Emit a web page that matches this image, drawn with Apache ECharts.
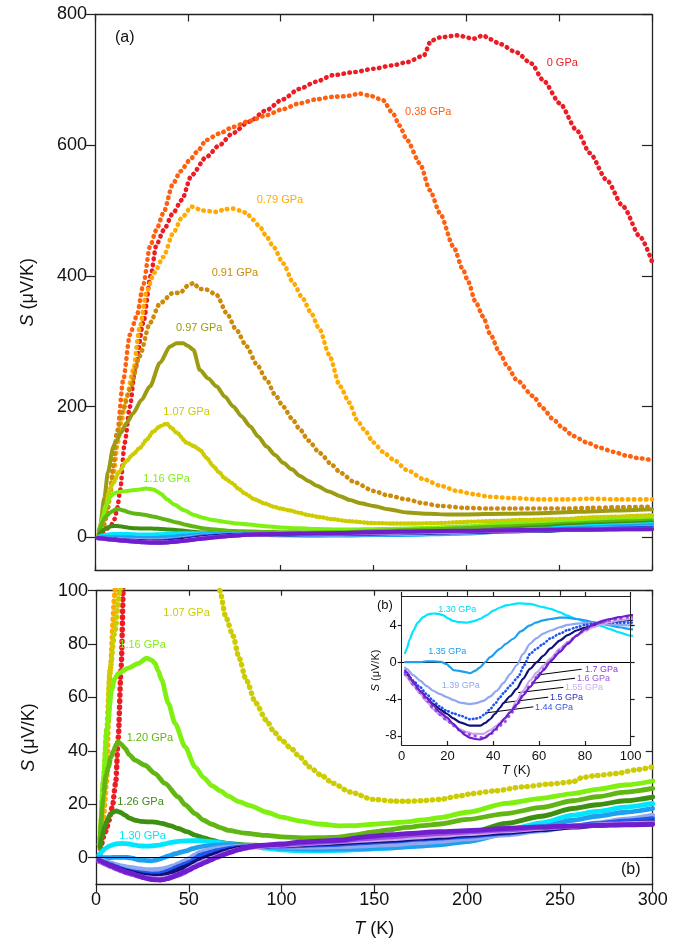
<!DOCTYPE html>
<html><head><meta charset="utf-8">
<script src="https://cdn.jsdelivr.net/npm/echarts@6/dist/echarts.min.js"></script>
<style>html,body{margin:0;padding:0;background:#fff}#c{width:692px;height:943px}</style>
</head><body><div id="c"></div>
<script>
// ---------- data: [T (K), S (uV/K)] ----------
const p000 = [[2,1],[3,5],[3.9,7.7],[5.4,10],[7,14],[8.8,19],[10.6,28],[12,45],[13.5,71],[16,145],[18.8,200],[21.5,256],[26,328],[30,400],[33,447],[37,470],[42,496],[46.7,516],[52,554],[60,582],[67,600],[74,618],[83,636],[92,653],[101,670],[110,686],[119,697],[128,707],[140,712],[150,717],[160,722],[168,727],[177,737],[181,760],[186,765],[195,768],[204,763],[209,768],[213,762],[218,755],[227,742],[235,725],[241.5,699],[250.4,664],[259.4,623],[266.5,588],[275.5,547],[284.5,506],[293.5,460],[300,422]];
const p038 = [[2,3],[4,12],[6.3,32],[8,65],[9.9,109],[12,160],[15.2,241],[18.8,310],[22.4,338],[26,386],[29.6,445],[33,470],[36.8,496],[42,541],[46,560],[51,577],[55,590],[60,608],[67,618],[74.5,628],[83,637],[92.5,646],[101,655],[110,664],[119,670],[128,674],[135,675],[142.7,679],[149,675],[155,669],[160.6,648],[164,630],[168,608],[175,572],[180.4,531],[185.8,496],[193,445],[198.3,409],[201,391],[205,360],[209,338],[213,310],[218,282],[222,262],[227,241],[236,216],[241,198],[247,180],[252,167],[257.6,155],[265,145],[272,137],[279,131],[286.3,125],[293,121],[300,118]];
const p079 = [[2,4],[4,15],[5.8,29],[6.6,50],[7.5,69],[10.2,99],[12,140],[14,175],[17,215],[20.6,256],[24,320],[27.8,376],[32,405],[36.8,429],[42,465],[47,490],[52,506],[58,500],[65.5,498],[70,502],[74.5,503],[78,500],[81.7,496],[85,486],[88.8,475],[92,462],[96,445],[101.4,419],[106.8,389],[112,365],[116,345],[121,318],[126,280],[132,231],[137,206],[141,180],[145,165],[150,145],[155,131],[160.7,119],[168,103],[177,89],[186,79],[195,71],[204,66],[212.7,62],[225,60],[239.6,58],[253,58],[266.6,59],[283,58],[300,58]];
const p091 = [[2,3],[4,12],[6,30],[8,60],[10,110],[11.7,160],[15,195],[18.8,226],[24,277],[29.6,328],[35,358],[42,374],[45.8,374],[50,385],[53,389],[56.5,380],[60,379],[65.5,371],[70.9,343],[76,318],[81.7,292],[87,265],[92.4,241],[97,218],[101.4,200],[106,182],[110.4,165],[115,148],[121,129],[128,110],[132,99],[140,84],[150,71],[158,64],[168,58],[177,52],[185.8,48],[200,45],[212.7,44],[225,44],[239.6,44],[253,44],[266.6,45],[283,46],[300,47]];
const p097 = [[2,10],[2.7,17],[5,60],[7,100],[9.9,139],[11,145],[14,160],[17,175],[20.6,190],[25,210],[29.6,231],[35,267],[40.4,292],[44,297],[47.5,297],[50,293],[53,287],[56.5,256],[61,243],[65.5,231],[70,215],[74.5,200],[79,185],[83.5,170],[88,154],[92.4,139],[97,126],[101.4,114],[106,104],[110.4,94],[115,86],[119.4,79],[126,70],[132,63],[137.3,57],[143,52],[150,48],[158,43],[168,38],[180,36],[190,35],[200,35],[220,36],[240,37],[260,39],[280,41],[300,43]];
const p107 = [[1.8,5],[2.2,8],[4,29],[5.8,48],[7.5,70],[10.2,85],[12.9,100],[17,117],[20.5,127],[24.2,137],[28,150],[31.4,162],[35,170],[38.6,174],[41,168],[44,160],[49.4,145],[53,140],[56.5,134],[60,122],[63.7,109],[66.7,100],[70,90],[73.9,83],[77,75],[81,66.5],[86,58],[91.8,51.5],[96,47],[100,44],[105,41],[109.8,37.7],[115,34],[121,31],[127.8,27.8],[136.8,24.6],[149.4,21.8],[160,21.2],[167.4,21.1],[175,21.3],[185.4,21.8],[195,23],[203,24],[215,25],[230,26.5],[245,27.6],[257,28.4],[262,30],[270,30.8],[280.6,31.5],[290,32.8],[300,34]];
const p116 = [[2.2,5],[4,29],[5.8,47.8],[8.5,62.8],[10,67],[12,69],[17.4,71],[22.8,72.8],[27.3,74.7],[30,74],[31.8,72.8],[33.5,70],[35.4,66.5],[39,57.8],[42.6,50.3],[48,41.5],[53.4,34],[58,30],[62.4,27],[67,25],[71.3,23],[77,21],[83,19.5],[92,17],[100,15.2],[110,13.7],[120,12.6],[131.4,11.9],[140,12],[149.4,12.5],[158,12.9],[167.4,13.4],[176,14.1],[185.4,15],[200,17],[221,20.3],[240,22.2],[257,24],[270,25.6],[285,27.2],[300,28.7]];
const p120 = [[2.2,6.5],[4,24],[5.5,31],[6.7,34],[8,37.5],[9.4,40],[11,42.5],[12,43.4],[13.5,42.5],[15.6,41],[18,38.5],[21,36.5],[26.4,34.6],[31.8,31.5],[37.2,27.8],[44.4,22.7],[48,19.8],[53.4,16.5],[58,14],[62.4,12.5],[67,11.2],[71.3,10.2],[80,9.2],[92,8.3],[100,7.8],[113.5,7.4],[122,7.5],[131,7.7],[140,8.5],[149.4,9.6],[158,10.4],[167.4,11.3],[176,12],[185.4,12.6],[200,14.3],[221,16.5],[240,18.8],[257,21.3],[270,22.8],[285,24.5],[300,25.9]];
const p126 = [[2.2,4],[3,7.7],[4.8,11.5],[6,14],[7.5,15.9],[9,17],[11,17.5],[13,17],[15.6,15.9],[18,14.8],[21,14],[24,13.6],[28.2,13.4],[32,13.3],[35.4,12.8],[40,12],[44.4,10.9],[49,9.7],[53.4,8.4],[58,7.4],[62.4,6.5],[67,5.8],[71.3,5.3],[80,4.8],[90,4.6],[100,4.6],[115,4.8],[131,5.1],[150,5.6],[167,6.3],[185.4,7.3],[200,9],[221,12.8],[240,15.5],[257,18.4],[270,19.8],[285,21.3],[300,22.7]];
const p130 = [[1.5,1],[2.2,1.45],[3.5,2.5],[5.1,3.45],[7,4.3],[9.4,4.9],[11.5,5.2],[13.8,5.3],[16,5.25],[18.2,5.1],[20,4.8],[22.5,4.5],[25,4.35],[28.4,4.3],[31,4.45],[34.2,4.7],[37,5.1],[40,5.6],[43,5.95],[45.9,6.2],[50.9,6.4],[56,6.35],[61.8,6.0],[65,5.8],[69,5.45],[72,5.1],[76.4,4.7],[80,4.45],[83.7,4.25],[87,3.95],[91,3.6],[95,3.25],[99.7,2.9],[110,2.6],[120,2.5],[131.5,2.7],[145,3.1],[160,3.7],[175,4.5],[185.4,5.3],[200,7],[221,10.2],[240,13],[257,15.9],[270,17.3],[285,18.9],[300,20.3]];
const p135 = [[1.5,0],[2.2,0],[5,0],[8,0],[11,0.1],[13.8,0.1],[17,0.05],[19.7,-0.2],[21,-0.5],[22.5,-0.85],[25,-0.95],[28.4,-1.1],[29.8,-1.2],[32,-0.95],[34.2,-0.55],[36.5,0],[38.6,0.55],[42.9,1.45],[45.5,2],[48.7,2.55],[52,3.35],[56,4.0],[58.5,4.3],[61.8,4.55],[65,4.7],[69,4.85],[72,4.85],[76.4,4.7],[80,4.55],[83.7,4.35],[87,4.2],[91,4.0],[95,3.8],[99.7,3.6],[110,3.3],[120,3.1],[131,3.2],[145,3.4],[160,3.7],[175,4.3],[185,4.8],[200,6],[221,9],[240,11.5],[257,14],[270,15.5],[285,17],[300,18.4]];
const p139 = [[1.5,-0.6],[2.2,-0.73],[5,-1.4],[8,-2.0],[11,-2.6],[13.8,-3.1],[16.5,-3.45],[19.7,-3.8],[22.5,-4.1],[25.5,-4.4],[29.8,-4.55],[32.5,-4.45],[35.6,-4.2],[38.5,-3.75],[41.5,-3.1],[44.5,-2.25],[47.3,-1.3],[50.3,-0.3],[53,0.9],[56,2.0],[58.8,2.6],[61.8,3.1],[65,3.45],[69,3.8],[72.5,4.05],[76.4,4.2],[80,4.25],[83.7,4.25],[87,4.2],[91,4.1],[95,4.05],[99.7,4.0],[110,3.9],[120,3.9],[131,4.1],[145,4.4],[160,4.9],[175,5.6],[185,6.1],[200,7],[221,8.5],[240,10],[257,11.7],[270,13],[285,14.4],[300,15.9]];
const p144 = [[1.5,-1.1],[2.2,-1.27],[5,-2.0],[8,-2.7],[11,-3.5],[13.8,-4.2],[16.5,-4.8],[19.7,-5.3],[22.5,-5.55],[25.5,-5.8],[29.8,-6.2],[32,-6.15],[34.2,-6.0],[36.5,-5.6],[38.6,-5.1],[40.8,-4.5],[42.9,-3.8],[45,-3.2],[47.3,-2.55],[50.9,-1.6],[53.5,-0.3],[56,0.9],[59,1.5],[61.8,2.0],[65,2.6],[69,3.1],[72.5,3.5],[76.4,3.8],[80,4.05],[83.7,4.2],[87,4.25],[91,4.3],[95,4.3],[99.7,4.3],[110,4.5],[120,4.8],[131,5.0],[145,5.6],[160,6.2],[175,6.9],[185,7.3],[200,8],[221,9.2],[240,10.5],[257,11.8],[270,12.7],[285,13.7],[300,14.6]];
const p150 = [[1.5,-1.3],[2.2,-1.45],[5,-2.3],[8,-3.1],[11,-3.9],[13.8,-4.55],[16.5,-5.1],[19.7,-5.6],[22.5,-6.1],[25.5,-6.55],[29.8,-6.9],[34.2,-6.9],[36.5,-6.6],[38.6,-6.2],[40.8,-5.6],[42.9,-4.95],[44.4,-4.45],[47.3,-3.7],[50.2,-2.9],[53,-1.8],[56,-0.73],[59,0],[61.8,0.7],[65,1.5],[69,2.35],[72.5,2.95],[76.4,3.45],[80,3.75],[83.7,4.0],[87,4.2],[91,4.35],[95,4.5],[99.7,4.6],[110,4.9],[120,5.2],[131,5.5],[145,6.1],[160,6.6],[175,7.3],[185,7.7],[200,8.5],[221,9.5],[240,10.5],[257,11.4],[270,12.1],[285,12.8],[300,13.4]];
const p155 = [[1.5,-1.4],[2.2,-1.6],[5,-2.5],[8,-3.4],[11,-4.3],[13.8,-5.1],[16.5,-5.7],[19.7,-6.3],[22.5,-6.8],[25.5,-7.3],[28.5,-7.6],[31.6,-7.8],[35.6,-7.8],[38.5,-7.4],[41.5,-6.9],[44.5,-6.2],[47.3,-5.45],[50.2,-4.2],[53,-3.1],[56,-2.0],[59,-1.1],[61.8,-0.4],[65,0.4],[69,1.45],[72.5,2.2],[76.4,2.9],[80,3.4],[83.7,3.8],[87,4.1],[91,4.35],[95,4.55],[99.7,4.7],[110,5.1],[120,5.5],[131,6],[145,6.6],[160,7.1],[175,7.8],[185,8.3],[200,9],[221,10],[240,11],[257,11.8],[270,12.3],[285,12.7],[300,13]];
const p160 = [[1.5,-1.3],[2.2,-1.5],[5,-2.4],[8,-3.3],[11,-4.2],[13.8,-5.0],[16.5,-5.7],[19.7,-6.3],[22.5,-6.9],[25.5,-7.4],[28.5,-7.8],[31.6,-8.0],[33.5,-8.15],[35.6,-8.2],[38.5,-7.9],[41.5,-7.3],[44.5,-6.6],[47.3,-5.8],[50.2,-4.7],[53,-3.6],[56,-2.55],[59,-1.6],[61.8,-0.73],[65,0.2],[69,1.27],[72.5,2.1],[76.4,2.9],[80,3.5],[83.7,4.0],[87,4.3],[91,4.55],[95,4.75],[99.7,4.9],[110,5.3],[120,5.8],[131,6.2],[145,7.1],[160,7.8],[175,8.6],[185,9],[200,9.6],[221,10.4],[240,11.2],[257,11.7],[270,12.1],[285,12.4],[300,12.6]];
const p170 = [[1.5,-0.9],[2.2,-1.1],[5,-2.1],[8,-3.1],[11,-3.9],[13.8,-4.7],[16.5,-5.4],[19.7,-6.0],[22.5,-6.7],[25.5,-7.45],[27.5,-7.9],[29.8,-8.2],[32,-8.35],[34.2,-8.4],[36.5,-8.2],[38.6,-7.8],[40.8,-7.3],[42.9,-6.7],[45,-6.1],[47.3,-5.45],[50.2,-4.6],[53,-3.6],[56,-2.7],[59,-1.75],[61.8,-0.9],[65,0.1],[69,1.1],[72.5,2.0],[76.4,2.9],[80,3.6],[83.7,4.1],[87,4.45],[91,4.7],[95,4.9],[99.7,5.1],[110,5.8],[120,6.2],[131,6.5],[145,7.8],[160,8.6],[167,9],[185,9.7],[203,10.2],[221,10.9],[239,11.5],[257,11.9],[270,12.1],[285,12.3],[300,12.5]];

// tick values
const topYTicks = [0, 200, 400, 600, 800];
const botYTicks = [0, 20, 40, 60, 80, 100];
const insetYTicks = [-8, -4, 0, 4];
// inset label leader lines: [[T,S] on curve, [T,S] at label]
const leaders = [[[58.9,-1.4],[78.6,-0.76]],[[56.8,-2.3],[75.7,-1.74]],[[50.9,-3.3],[70.6,-2.73]],[[44.4,-4.4],[64,-3.8]],[[37.1,-5.5],[57.5,-4.85]]];

const FONT = '"Liberation Sans", Arial, Helvetica, sans-serif';
const AX = '#222';

// bot: style in panel (b) (null = not shown); botMaxT: only the low-T part appears in panel (b)
const P = [
  {d:p000, c:'#ec1c24', top:'dot', bot:'dot'},
  {d:p038, c:'#ff5f0f', top:'dot', bot:null},
  {d:p079, c:'#ffaa00', top:'dot', bot:'dot', botMaxT:12},
  {d:p091, c:'#cc8a0a', top:'dot', bot:null},
  {d:p097, c:'#9c9c12', top:'solid', bot:null},
  {d:p107, c:'#cccc00', top:'dense', bot:'dot'},
  {d:p116, c:'#80f010', top:'solid', bot:'solid'},
  {d:p120, c:'#62b614', top:'solid', bot:'solid'},
  {d:p126, c:'#3e9010', top:'solid', bot:'solid'},
  {d:p130, c:'#00e6ff', top:'solid', bot:'solid', ins:'solid'},
  {d:p135, c:'#1ea0ee', top:'solid', bot:'solid', ins:'solid'},
  {d:p139, c:'#90a8f0', top:'solid', bot:'solid', ins:'solid'},
  {d:p144, c:'#2255ee', top:'solid', bot:'solid', ins:'dense'},
  {d:p150, c:'#10107a', top:'solid', bot:'solid', ins:'solid'},
  {d:p155, c:'#c8a8ec', top:'solid', bot:'solid', ins:'solid'},
  {d:p160, c:'#a04ee0', top:'solid', bot:'solid', ins:'dot'},
  {d:p170, c:'#6e1ecc', top:'solid', bot:'solid', ins:'solid'}
];

function lineStyleFor(kind, color, w) {
  if (kind === 'dot') return {color, width: w + 0.6, type: [0.5, 5.5], cap: 'round', join: 'round'};
  if (kind === 'dense') return {color, width: w + 0.4, type: [0.5, 3.2], cap: 'round', join: 'round'};
  return {color, width: w, type: 'solid', cap: 'round', join: 'round'};
}

const series = [];
P.forEach((p) => {
  series.push({type:'line', xAxisIndex:0, yAxisIndex:0, data:p.d, showSymbol:false, smooth:0.25, smoothMonotone:'x',
    lineStyle: lineStyleFor(p.top, p.c, 4), z:2, silent:true});
});
let zeroAdded = false;
P.forEach((p) => {
  if (!p.bot) return;
  const d = p.botMaxT ? p.d.filter(v => v[0] <= p.botMaxT) : p.d;
  const s = {type:'line', xAxisIndex:2, yAxisIndex:2, data:d, showSymbol:false, smooth:0.25, smoothMonotone:'x',
    lineStyle: lineStyleFor(p.bot, p.c, 4.8), z:2, silent:true, clip:true};
  if (!zeroAdded) { zeroAdded = true; s.markLine = {silent:true, symbol:'none', animation:false, label:{show:false},
    lineStyle:{color:'#000', width:1.2, type:'solid'}, data:[{yAxis:0}]}; }
  series.push(s);
});
P.forEach((p) => {
  if (!p.ins) return;
  const s = {type:'line', xAxisIndex:4, yAxisIndex:4, data:p.d, showSymbol:false, smooth:0.25, smoothMonotone:'x',
    lineStyle: lineStyleFor(p.ins, p.c, 2.2), z:10, silent:true, clip:true};
  if (p.d === p130) s.markLine = {silent:true, symbol:'none', animation:false, label:{show:false},
    lineStyle:{color:'#000', width:1.2, type:'solid'}, data:[{yAxis:0}]};
  if (p.d === p170) s.markLine = {silent:true, symbol:'none', animation:false, label:{show:false},
    lineStyle:{color:'#000', width:1, type:'solid'},
    data: leaders.map(l => [{coord:l[0]}, {coord:l[1]}])};
  series.push(s);
});

const lineAx = (w) => ({show:true, onZero:false, lineStyle:{color:AX, width:w}});
function xAx(grid, pos, min, max, interval, o) {
  return Object.assign({type:'value', gridIndex:grid, position:pos, min, max, interval,
    axisLine: lineAx(o.lw || 1.3), splitLine:{show:false},
    axisTick:{show:true, inside:o.inside, length:o.len, lineStyle:{color:AX, width:1.2}},
    axisLabel:{show:!!o.label, fontSize:o.fs || 18, fontFamily:FONT, color:'#111', margin:o.margin || 8}}, o.extra || {});
}
function yAx(grid, pos, min, max, ticks, o) {
  return Object.assign({type:'value', gridIndex:grid, position:pos, min, max,
    axisLine: lineAx(o.lw || 1.3), splitLine:{show:false},
    axisTick:{show:true, inside:o.inside, length:o.len, customValues:ticks, lineStyle:{color:AX, width:1.2}},
    axisLabel:{show:!!o.label, customValues:ticks, fontSize:o.fs || 18, fontFamily:FONT, color:'#111', margin:o.margin || 8}}, o.extra || {});
}
const yName = (fs, gap) => ({name:'{i|S} (μV/K)', nameLocation:'middle', nameGap:gap,
  nameTextStyle:{fontSize:fs, fontFamily:FONT, color:'#111', rich:{i:{fontStyle:'italic', fontSize:fs, fontFamily:FONT, color:'#111'}}}});
const xName = (fs, gap) => ({name:'{i|T} (K)', nameLocation:'middle', nameGap:gap,
  nameTextStyle:{fontSize:fs, fontFamily:FONT, color:'#111', rich:{i:{fontStyle:'italic', fontSize:fs, fontFamily:FONT, color:'#111'}}}});

const xAxis = [
  xAx(0, 'bottom', 0, 300, 50, {inside:true, len:5}),
  xAx(0, 'top', 0, 300, 50, {inside:true, len:7}),
  xAx(1, 'bottom', 0, 300, 50, {inside:false, len:8, label:true, margin:7, extra: xName(18, 36)}),
  xAx(1, 'top', 0, 300, 50, {inside:true, len:5}),
  xAx(2, 'bottom', 0, 100, 20, {inside:true, len:4, label:true, fs:13, margin:5, lw:1, extra: Object.assign({z:12}, xName(13, 17))}),
  xAx(2, 'top', 0, 100, 20, {inside:false, len:4, lw:1, extra:{z:12}})
];
const yAxis = [
  yAx(0, 'left', -50, 800, topYTicks, {inside:false, len:9, label:true, margin:8, extra: yName(18, 58)}),
  yAx(0, 'right', -50, 800, topYTicks, {inside:true, len:10}),
  yAx(1, 'left', -10, 100, botYTicks, {inside:false, len:8, label:true, margin:8, extra: yName(18, 58)}),
  yAx(1, 'right', -10, 100, botYTicks, {inside:true, len:7}),
  yAx(2, 'left', -9, 7.2, insetYTicks, {inside:false, len:4, label:true, fs:13, margin:5, lw:1, extra: Object.assign({z:12}, yName(11, 14))}),
  yAx(2, 'right', -9, 7.2, insetYTicks, {inside:false, len:4, lw:1, extra:{z:12}})
];

function txt(text, x, y, color, fs) {
  return {type:'text', x, y, z:100, silent:true,
    style:{text, fill:color, font: fs + 'px ' + FONT, fontSize:fs, fontFamily:FONT,
      textAlign:'left', textVerticalAlign:'middle', align:'left', verticalAlign:'middle'}};
}
const labels = [
  txt('(a)', 115, 38, '#111', 16),
  txt('0 GPa', 546.7, 63, '#ec1c24', 11),
  txt('0.38 GPa', 405, 112, '#ff5f0f', 11),
  txt('0.79 GPa', 256.7, 199.5, '#ffaa00', 11),
  txt('0.91 GPa', 211.7, 272.7, '#cc8a0a', 11),
  txt('0.97 GPa', 176, 328.3, '#9c9c12', 11),
  txt('1.07 GPa', 163.3, 411.7, '#cccc00', 11),
  txt('1.16 GPa', 143.3, 479, '#80f010', 11),
  txt('1.07 GPa', 163.3, 613.3, '#cccc00', 11),
  txt('1.16 GPa', 119.3, 645.3, '#80f010', 11),
  txt('1.20 GPa', 126.7, 737.7, '#62b614', 11),
  txt('1.26 GPa', 117.3, 801.7, '#3e9010', 11),
  txt('1.30 GPa', 119.3, 836, '#00e6ff', 11),
  txt('(b)', 621, 870, '#111', 16),
  txt('(b)', 377, 605, '#111', 13),
  txt('1.30 GPa', 438.3, 610, '#00d8f5', 9),
  txt('1.35 GPa', 428.3, 651.7, '#1ea0ee', 9),
  txt('1.39 GPa', 441.7, 686, '#90a8f0', 9),
  txt('1.7 GPa', 585, 669.3, '#8a3ad8', 9),
  txt('1.6 GPa', 577, 678.3, '#9b55dd', 9),
  txt('1.55 GPa', 565, 687.5, '#cdb0f0', 9),
  txt('1.5 GPa', 550, 697.5, '#2a30c0', 9),
  txt('1.44 GPa', 535, 707.5, '#3358e0', 9)
];

const chart = echarts.init(document.getElementById('c'), null, {renderer:'canvas'});
chart.setOption({
  animation:false,
  backgroundColor:'#fff',
  grid:[
    {left:95, top:14.5, width:557, height:555.5},
    {left:96, top:590.7, width:556.7, height:293.6},
    {left:401.7, top:596, width:229, height:149, show:true, backgroundColor:'#fff', borderWidth:0, z:5}
  ],
  xAxis, yAxis, series,
  graphic:{elements:labels}
});
</script></body></html>
